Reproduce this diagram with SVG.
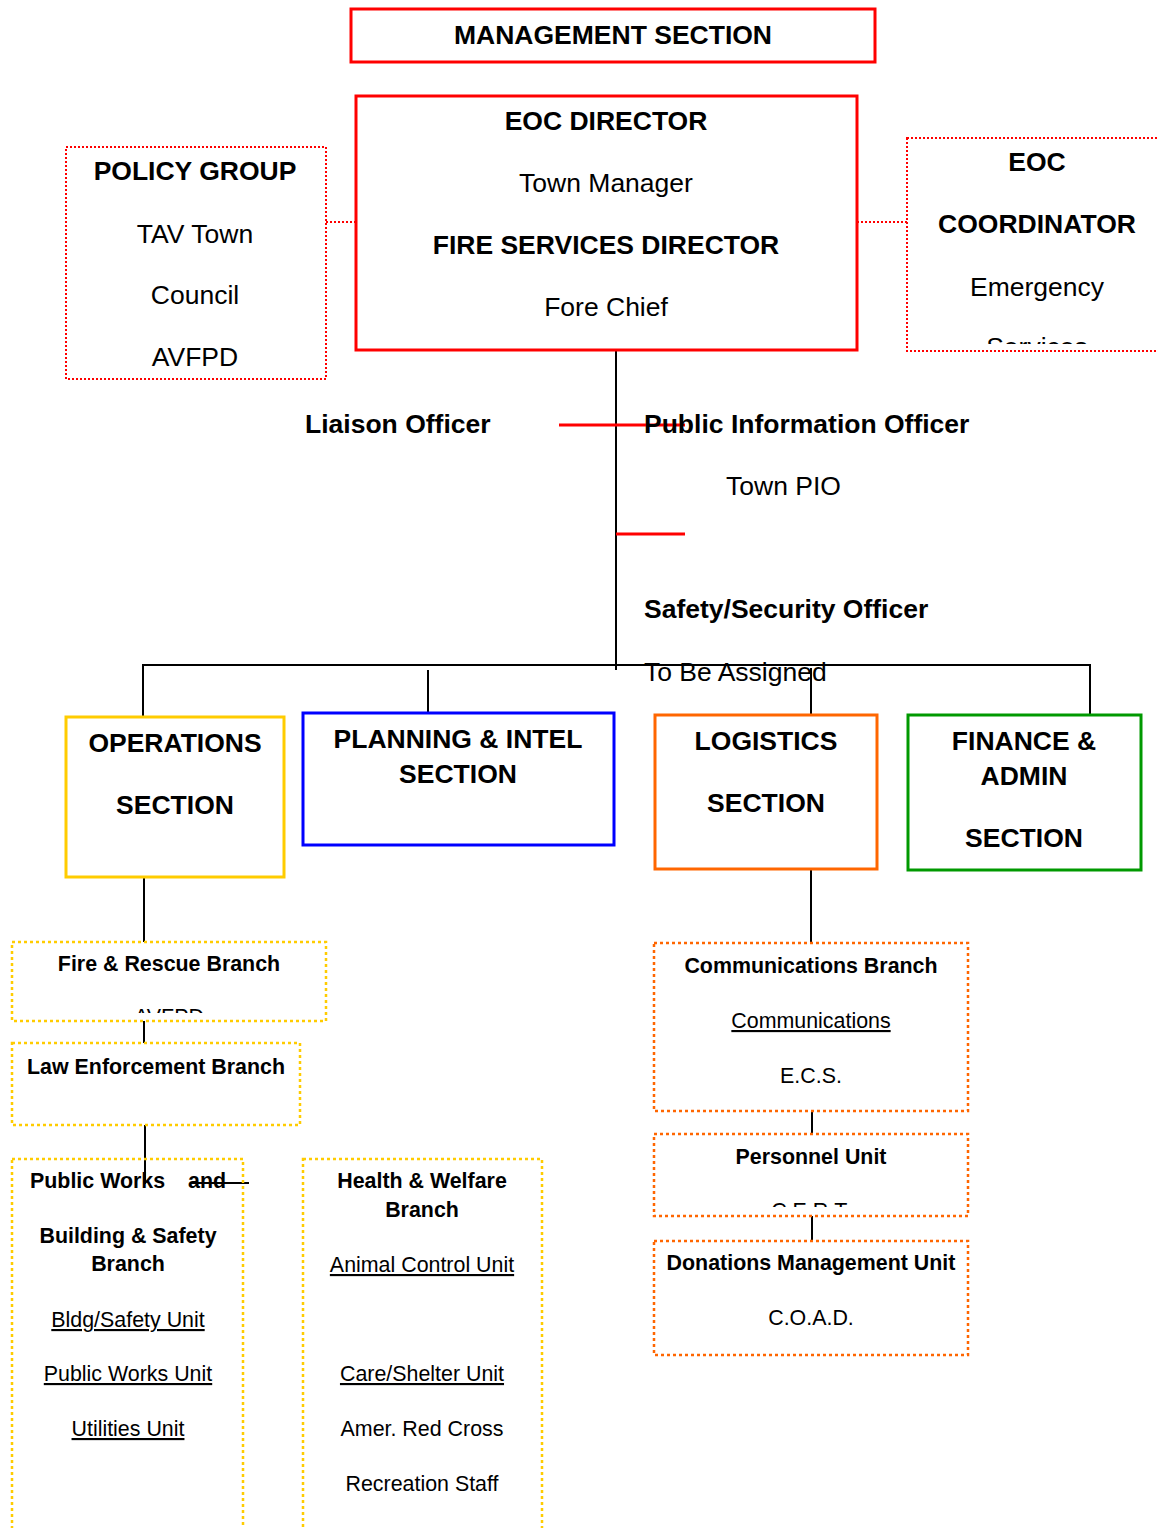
<svg xmlns="http://www.w3.org/2000/svg" width="1158" height="1528" viewBox="0 0 1158 1528">
<style>
text{font-family:"Liberation Sans",Arial,sans-serif;fill:#000}
.b{font-weight:bold}
.L{font-size:26.5px}
.S{font-size:21.4px}
.c{text-anchor:middle}
.u{text-decoration:underline}
.line{stroke:#000;stroke-width:2;fill:none}
.red{stroke:#FF0000;stroke-width:3;fill:none}
.rdot{stroke:#FF0000;stroke-width:2;stroke-dasharray:2 2;fill:none}
.ydot{stroke:#FFCC00;stroke-width:2.5;stroke-dasharray:3 3;fill:none}
.odot{stroke:#FF6600;stroke-width:2.5;stroke-dasharray:3 3;fill:none}
</style>
<defs>
<clipPath id="clipCoord"><rect x="907" y="138" width="251" height="206"/></clipPath>
<clipPath id="clipFire"><rect x="12" y="942" width="314" height="71"/></clipPath>
<clipPath id="clipPers"><rect x="654" y="1134" width="314" height="73"/></clipPath>
</defs>
<rect width="1158" height="1528" fill="#fff"/>
<g id="connectors">
<line class="rdot" x1="326" y1="222" x2="356" y2="222"/>
<line class="rdot" x1="857" y1="222" x2="907" y2="222"/>
<line class="line" x1="616" y1="350" x2="616" y2="670"/>
<line class="red" x1="559" y1="425" x2="685" y2="425"/>
<line class="red" x1="616" y1="534" x2="685" y2="534"/>
<polyline class="line" points="143,717 143,665 1090,665 1090,714"/>
<line class="line" x1="428" y1="670" x2="428" y2="713"/>
<line class="line" x1="811" y1="668" x2="811" y2="714"/>
<line class="line" x1="144" y1="877" x2="144" y2="942"/>
<line class="line" x1="144" y1="1021" x2="144" y2="1043"/>
<line class="line" x1="145" y1="1125" x2="145" y2="1184"/>
<line class="line" x1="190" y1="1183" x2="249" y2="1183"/>
<line class="line" x1="811" y1="869" x2="811" y2="943"/>
<line class="line" x1="812" y1="1111" x2="812" y2="1134"/>
<line class="line" x1="812" y1="1216" x2="812" y2="1241"/>
</g>
<g id="management">
<rect class="red" x="351" y="9" width="524" height="53"/>
<text class="b L c" x="613" y="44">MANAGEMENT SECTION</text>
</g>
<g id="eoc-director">
<rect class="red" x="356" y="96" width="501" height="254"/>
<text class="b L c" x="606" y="130">EOC DIRECTOR</text>
<text class="L c" x="606" y="192">Town Manager</text>
<text class="b L c" x="606" y="254">FIRE SERVICES DIRECTOR</text>
<text class="L c" x="606" y="316">Fore Chief</text>
</g>
<g id="policy-group">
<rect class="rdot" x="66" y="147" width="260" height="232"/>
<text class="b L c" x="195" y="180">POLICY GROUP</text>
<text class="L c" x="195" y="243">TAV Town</text>
<text class="L c" x="195" y="304">Council</text>
<text class="L c" x="195" y="366">AVFPD</text>
</g>
<g id="eoc-coordinator">
<rect class="rdot" x="907" y="138" width="260" height="213"/>
<g clip-path="url(#clipCoord)">
<text class="b L c" x="1037" y="171">EOC</text>
<text class="b L c" x="1037" y="233">COORDINATOR</text>
<text class="L c" x="1037" y="296">Emergency</text>
<text class="L c" x="1037" y="356">Services</text>
</g>
</g>
<g id="liaison">
<text class="b L" x="305" y="433">Liaison Officer</text>
</g>
<g id="pio">
<text class="b L" x="644" y="433">Public Information Officer</text>
<text class="L" x="726" y="495">Town PIO</text>
</g>
<g id="safety">
<text class="b L" x="644" y="618">Safety/Security Officer</text>
<text class="L" x="644" y="681">To Be Assigned</text>
</g>
<g id="operations">
<rect x="66" y="717" width="218" height="160" fill="none" stroke="#FFCC00" stroke-width="3"/>
<text class="b L c" x="175" y="752">OPERATIONS</text>
<text class="b L c" x="175" y="814">SECTION</text>
</g>
<g id="planning">
<rect x="303" y="713" width="311" height="132" fill="none" stroke="#0000FF" stroke-width="3"/>
<text class="b L c" x="458" y="748">PLANNING &amp; INTEL</text>
<text class="b L c" x="458" y="783">SECTION</text>
</g>
<g id="logistics">
<rect x="655" y="715" width="222" height="154" fill="none" stroke="#FF6600" stroke-width="3"/>
<text class="b L c" x="766" y="750">LOGISTICS</text>
<text class="b L c" x="766" y="812">SECTION</text>
</g>
<g id="finance">
<rect x="908" y="715" width="233" height="155" fill="none" stroke="#009900" stroke-width="3"/>
<text class="b L c" x="1024" y="750">FINANCE &amp;</text>
<text class="b L c" x="1024" y="785">ADMIN</text>
<text class="b L c" x="1024" y="847">SECTION</text>
</g>
<g id="fire-rescue">
<rect class="ydot" x="12" y="942" width="314" height="79"/>
<g clip-path="url(#clipFire)">
<text class="b S c" x="169" y="971">Fire &amp; Rescue Branch</text>
<text class="S c" x="169" y="1024">AVFPD</text>
</g>
</g>
<g id="law-enforcement">
<rect class="ydot" x="12" y="1043" width="288" height="82"/>
<text class="b S c" x="156" y="1074">Law Enforcement Branch</text>
</g>
<g id="public-works">
<rect class="ydot" x="12" y="1159" width="231" height="380"/>
<text class="b S" x="30" y="1188">Public Works<tspan x="188">and</tspan></text>
<text class="b S c" x="128" y="1243">Building &amp; Safety</text>
<text class="b S c" x="128" y="1271">Branch</text>
<text class="S c u" x="128" y="1327">Bldg/Safety Unit</text>
<text class="S c u" x="128" y="1381">Public Works Unit</text>
<text class="S c u" x="128" y="1436">Utilities Unit</text>
</g>
<g id="health-welfare">
<rect class="ydot" x="303" y="1159" width="239" height="380"/>
<text class="b S c" x="422" y="1188">Health &amp; Welfare</text>
<text class="b S c" x="422" y="1217">Branch</text>
<text class="S c u" x="422" y="1272">Animal Control Unit</text>
<text class="S c u" x="422" y="1381">Care/Shelter Unit</text>
<text class="S c" x="422" y="1436">Amer. Red Cross</text>
<text class="S c" x="422" y="1491">Recreation Staff</text>
</g>
<g id="communications">
<rect class="odot" x="654" y="943" width="314" height="168"/>
<text class="b S c" x="811" y="973">Communications Branch</text>
<text class="S c u" x="811" y="1028">Communications</text>
<text class="S c" x="811" y="1083">E.C.S.</text>
</g>
<g id="personnel">
<rect class="odot" x="654" y="1134" width="314" height="82"/>
<g clip-path="url(#clipPers)">
<text class="b S c" x="811" y="1164">Personnel Unit</text>
<text class="S c" x="811" y="1218">C.E.R.T.</text>
</g>
</g>
<g id="donations">
<rect class="odot" x="654" y="1241" width="314" height="114"/>
<text class="b S c" x="811" y="1270">Donations Management Unit</text>
<text class="S c" x="811" y="1325">C.O.A.D.</text>
</g>
</svg>
